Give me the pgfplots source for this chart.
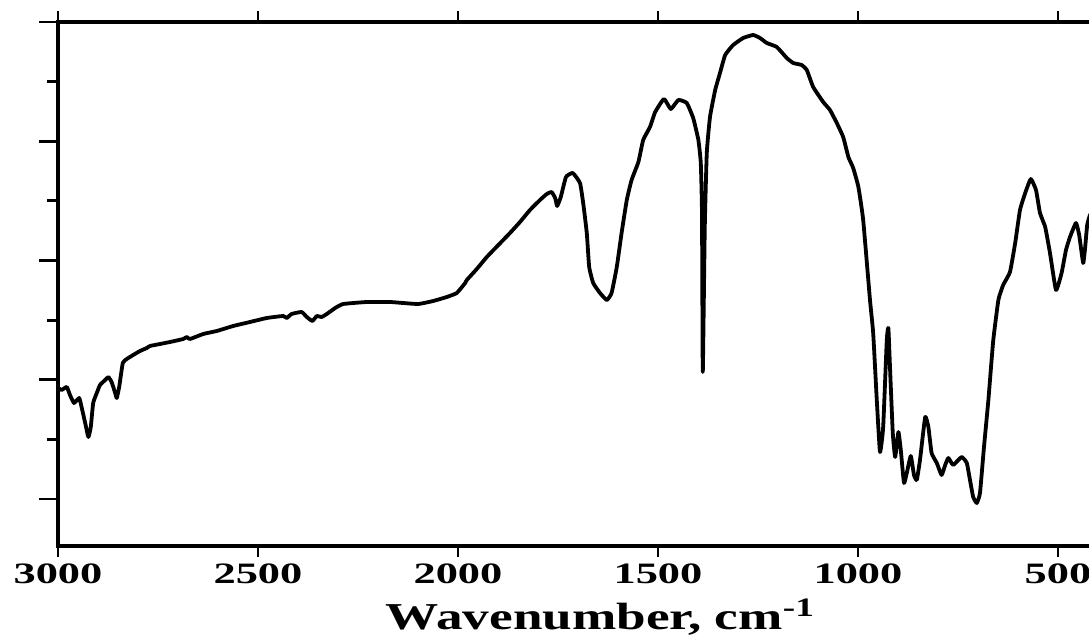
\documentclass[border=0pt]{standalone}
\usepackage{fontspec}
\usepackage{pgfplots}
\pgfplotsset{compat=1.18}
\newfontfamily\tickfont[FakeStretch=1.5]{Liberation Serif}
\newfontfamily\labfont[FakeStretch=1.4]{Liberation Serif}

\begin{document}
\begin{tikzpicture}
\begin{axis}[
    scale only axis,
    width=517.6pt, height=262pt,
    x dir=reverse,
    xmin=412, xmax=3000,
    ymin=0, ymax=524,
    axis line style={line width=1.6pt, black},
    tick align=outside,
    major tick length=5.5pt,
    tick style={line width=1.4pt, black},
    xtick={3000,2500,2000,1500,1000,500},
    xticklabels={3000,2500,2000,1500,1000,500},
    xtick pos=both,
    xticklabel pos=bottom,
    ytick pos=left,
    ytick={106.6,225.9,345.1,464.4},
    yticklabels={},
    extra y ticks={47,166.25,285.5,404.75,524},
    extra y tick labels={},
    extra y tick style={major tick length=9.5pt},
    xticklabel style={font=\tickfont\bfseries\fontsize{14.8}{15}\selectfont},
    xlabel={Wavenumber, cm\textsuperscript{-1}},
    xlabel style={font=\labfont\bfseries\fontsize{19}{21}\selectfont,
        at={(axis description cs:0.524,0)}, anchor=base, yshift=-41.5pt},
]
\addplot[black, line width=1.9pt, line join=round, smooth, tension=0.25] coordinates {
(2999,158) (2991,156) (2978,159) (2970,151) (2960,143) (2947,148)
(2941,139) (2932,123) (2924,109) (2918,119) (2912,143) (2903,153)
(2895,161) (2882,166) (2874,169) (2866,164) (2857,153) (2853,148)
(2847,159) (2838,183) (2828,187) (2812,191) (2795,195) (2778,198)
(2770,200) (2745,202) (2720,204) (2687,207) (2678,209) (2670,207)
(2637,212) (2603,215) (2562,220) (2520,224) (2478,228) (2437,230)
(2428,228) (2416,232) (2391,234) (2378,229) (2364,225) (2353,230)
(2341,229) (2328,232) (2307,238) (2287,242) (2228,244) (2170,244)
(2137,243) (2099,242) (2062,245) (2028,249) (2003,253) (1982,263)
(1978,266) (1953,277) (1928,289) (1899,301) (1870,313) (1845,324)
(1820,336) (1795,346) (1778,352) (1766,354) (1757,348) (1752,340)
(1743,349) (1730,369) (1713,373) (1695,363) (1687,343) (1678,313)
(1672,279) (1662,263) (1645,253) (1628,246) (1616,253) (1603,279)
(1591,313) (1578,346) (1566,366) (1549,384) (1537,406) (1520,419)
(1507,434) (1485,447) (1468,437) (1449,446) (1428,443) (1412,428)
(1399,406) (1393,383) (1390,333) (1388,174) (1383,319) (1378,393)
(1370,429) (1357,456) (1345,473) (1332,491) (1312,501) (1287,508)
(1262,511) (1245,508) (1228,503) (1203,499) (1178,488) (1162,483)
(1141,481) (1128,476) (1112,459) (1087,444) (1070,436) (1053,423)
(1037,409) (1024,389) (1012,378) (999,359) (987,326) (970,246)
(962,213) (953,146) (945,94) (937,119) (928,206) (924,218)
(920,179) (913,113) (907,89) (899,114) (893,96) (885,63)
(878,73) (868,90) (860,71) (853,66) (845,86) (832,129)
(824,119) (816,93) (803,83) (791,71) (782,81) (774,88)
(762,81) (741,89) (728,83) (720,66) (712,49) (703,43)
(695,53) (685,99) (674,146) (662,205) (649,246) (637,261)
(620,274) (607,303) (595,336) (582,353) (568,367) (555,356)
(545,333) (532,319) (520,293) (505,256) (491,273) (480,296)
(470,309) (455,323) (447,311) (437,283) (432,299) (427,321)
(420,331) (412,336)
};
\end{axis}
\pgfresetboundingbox
\useasboundingbox (-29pt,-46pt) rectangle (515.5pt,273pt);
\end{tikzpicture}
\end{document}
